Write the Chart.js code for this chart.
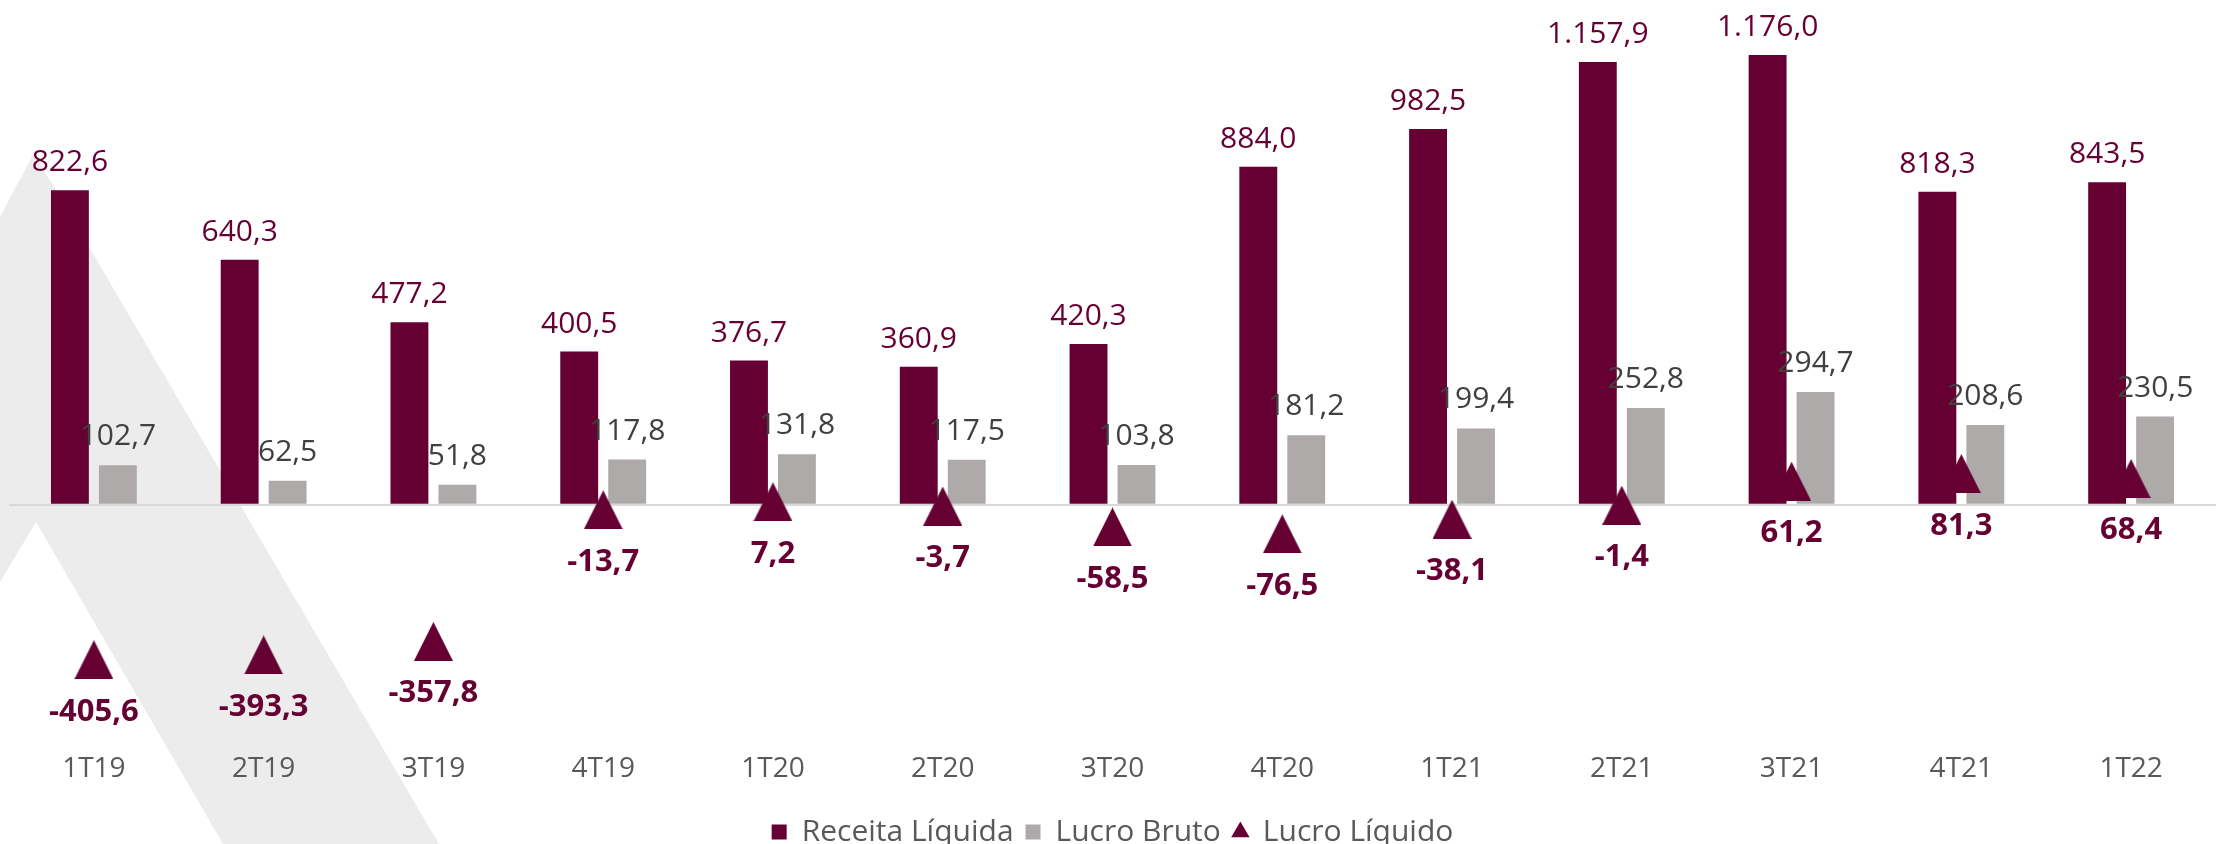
<!DOCTYPE html>
<html>
<head>
<meta charset="utf-8">
<script src="https://cdn.jsdelivr.net/npm/chart.js@4.4.0/dist/chart.umd.min.js"></script>
<style>
  html, body { margin: 0; padding: 0; background: #fff; }
  #wrap { width: 2216px; height: 844px; position: relative; }
</style>
</head>
<body>
<div id="wrap"><canvas id="chart"></canvas></div>
<script>
const categories = ['1T19', '2T19', '3T19', '4T19', '1T20', '2T20', '3T20', '4T20', '1T21', '2T21', '3T21', '4T21', '1T22'];
const receitaLiquida = [822.6, 640.3, 477.2, 400.5, 376.7, 360.9, 420.3, 884.0, 982.5, 1157.9, 1176.0, 818.3, 843.5];
const lucroBruto = [102.7, 62.5, 51.8, 117.8, 131.8, 117.5, 103.8, 181.2, 199.4, 252.8, 294.7, 208.6, 230.5];
const lucroLiquido = [-405.6, -393.3, -357.8, -13.7, 7.2, -3.7, -58.5, -76.5, -38.1, -1.4, 61.2, 81.3, 68.4];

const MAROON = '#660033';
const GREY = '#AEAAAA';
const FONT = "'Open Sans', sans-serif";

// pt-BR style number: 1.157,9
function fmt(v) {
    const parts = Math.abs(v).toFixed(1).split('.');
    const int = parts[0].replace(/\B(?=(\d{3})+(?!\d))/g, '.');
    return (v < 0 ? '-' : '') + int + ',' + parts[1];
}

// marker for Lucro Liquido
const tri = document.createElement('canvas');
tri.width = 39; tri.height = 39;
{
    const c = tri.getContext('2d');
    c.fillStyle = MAROON;
    c.beginPath();
    c.moveTo(19.5, 0);
    c.lineTo(39, 39);
    c.lineTo(0, 39);
    c.closePath();
    c.fill();
}

// grey chevron in the background
const backdrop = {
    id: 'backdrop',
    beforeDraw(chart) {
        const ctx = chart.ctx;
        ctx.save();
        ctx.fillStyle = '#ECECEC';
        ctx.beginPath();
        ctx.moveTo(0, 217);
        ctx.lineTo(34, 153);
        ctx.lineTo(439, 844);
        ctx.lineTo(223, 844);
        ctx.lineTo(36, 522);
        ctx.lineTo(0, 582);
        ctx.closePath();
        ctx.fill();
        ctx.restore();
    }
};

const valueLabels = {
    id: 'valueLabels',
    afterDatasetsDraw(chart) {
        const ctx = chart.ctx;
        ctx.save();
        ctx.textAlign = 'center';
        ctx.textBaseline = 'alphabetic';
        chart.data.datasets.forEach((ds, i) => {
            const meta = chart.getDatasetMeta(i);
            meta.data.forEach((el, j) => {
                const txt = fmt(ds.data[j]);
                if (i === 0) {
                    ctx.font = '400 30px ' + FONT;
                    ctx.fillStyle = MAROON;
                    ctx.fillText(txt, el.x, el.y - 19);
                } else if (i === 1) {
                    ctx.font = '400 30px ' + FONT;
                    ctx.fillStyle = '#404040';
                    ctx.fillText(txt, el.x, el.y - 20);
                } else {
                    ctx.font = '700 31px ' + FONT;
                    ctx.fillStyle = MAROON;
                    ctx.fillText(txt, el.x, el.y + 61);
                }
            });
        });
        ctx.restore();
    }
};

new Chart(document.getElementById('chart'), {
    type: 'bar',
    data: {
        labels: categories,
        datasets: [
            {
                label: 'Receita Líquida',
                data: receitaLiquida,
                backgroundColor: MAROON,
                borderWidth: 0,
                categoryPercentage: 0.565,
                barPercentage: 0.79,
                order: 1
            },
            {
                label: 'Lucro Bruto',
                data: lucroBruto,
                backgroundColor: GREY,
                borderWidth: 0,
                categoryPercentage: 0.565,
                barPercentage: 0.79,
                order: 1
            },
            {
                type: 'line',
                label: 'Lucro Líquido',
                data: lucroLiquido,
                showLine: false,
                backgroundColor: MAROON,
                borderColor: MAROON,
                pointStyle: tri,
                pointRadius: 1,
                pointHoverRadius: 1,
                pointBorderWidth: 0,
                clip: false,
                order: 0
            }
        ]
    },
    options: {
        responsive: true,
        maintainAspectRatio: false,
        animation: false,
        layout: { autoPadding: false, padding: { left: 9, right: 0, top: 0, bottom: -13 } },
        scales: {
            x: {
                grid: { display: false, drawTicks: false },
                border: { display: false },
                ticks: {
                    color: '#595959',
                    font: { family: FONT, size: 28 },
                    padding: 18.7
                }
            },
            y: {
                min: -600,
                max: 1320,
                grid: {
                    drawTicks: false,
                    lineWidth: 2,
                    color: c => c.tick && c.tick.value === 0 ? '#D9D9D9' : 'rgba(0,0,0,0)'
                },
                border: { display: false },
                ticks: { display: false, stepSize: 100 }
            }
        },
        plugins: {
            tooltip: { enabled: false },
            legend: {
                position: 'bottom',
                labels: {
                    usePointStyle: true,
                    boxHeight: 15,
                    boxWidth: 15,
                    padding: 12,
                    color: '#595959',
                    font: { family: FONT, size: 30 },
                    sort: (a, b) => a.datasetIndex - b.datasetIndex,
                    generateLabels(chart) {
                        const items = Chart.defaults.plugins.legend.labels.generateLabels(chart);
                        items.forEach(it => {
                            it.pointStyle = it.datasetIndex === 2 ? 'triangle' : 'rect';
                            it.lineWidth = 0;
                            it.strokeStyle = 'rgba(0,0,0,0)';
                        });
                        return items;
                    }
                }
            }
        }
    },
    plugins: [backdrop, valueLabels]
});
</script>
</body>
</html>
